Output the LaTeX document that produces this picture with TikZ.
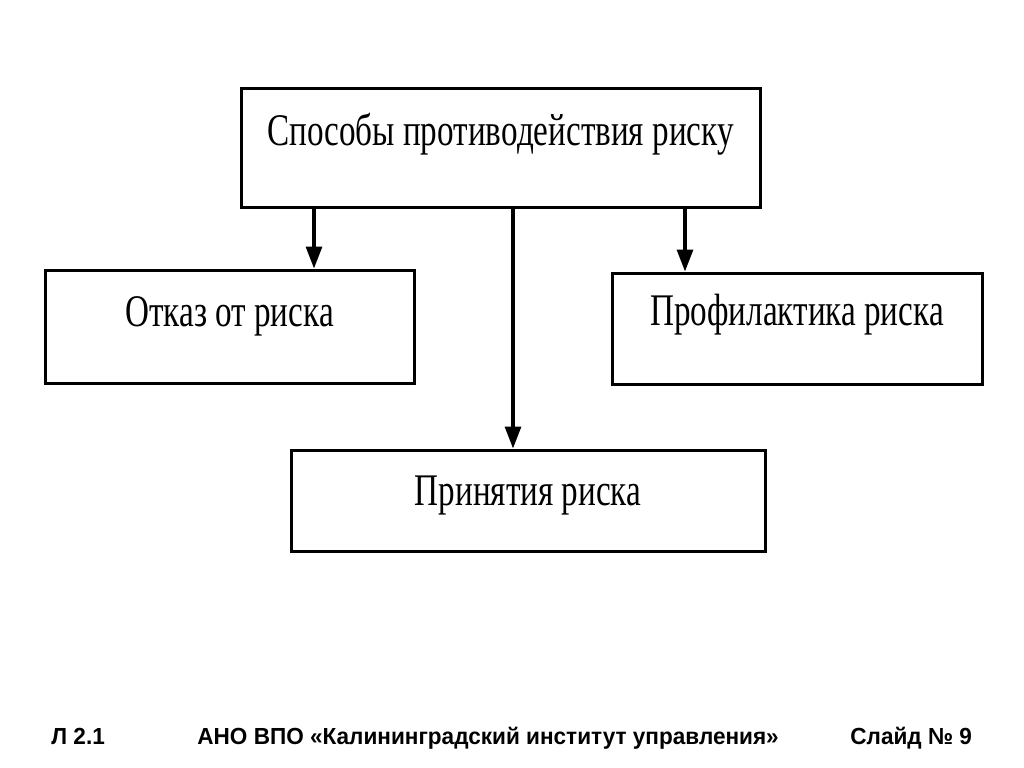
\documentclass[tikz,border=0pt]{standalone}
\usepackage{fontspec}
\setmainfont{Liberation Serif}
\newfontfamily\footfont{Liberation Sans}
\usetikzlibrary{arrows.meta,positioning}
\newcommand{\boxtext}[1]{\scalebox{0.975}[1.33]{#1}}
\newcommand{\foottext}[1]{\scalebox{0.94}[0.97]{#1}}

\begin{document}
\begin{tikzpicture}[x=0.5pt,y=-0.5pt,
    box/.style={draw,line width=1.5pt,inner sep=0pt,font=\fontsize{17}{20}\selectfont},
    arr/.style={line width=1.6pt,-{Triangle[length=11pt,width=8pt]}},
    foot/.style={font=\footfont\bfseries\fontsize{12}{14}\selectfont,anchor=base west,inner sep=0pt}]
  \useasboundingbox[fill=white] (0,0) rectangle (1024,767);
  % boxes
  \node[box,minimum width=259.5pt,minimum height=59.5pt,text height=12pt,text depth=14.5pt] (top) at (500.5,147.5) {\boxtext{Способы противодействия риску}};
  \node[box,minimum width=184.5pt,minimum height=56.5pt,text height=12pt,text depth=12pt] (lft) at (229.5,326.5) {\boxtext{Отказ от риска}};
  \node[box,minimum width=185pt,minimum height=55.5pt,text height=12pt,text depth=15.5pt] (rgt) at (797,328.5) {\boxtext{Профилактика риска}};
  \node[box,minimum width=237pt,minimum height=50.5pt,text height=14.5pt,text depth=10pt] (bot) at (528,500.5) {\boxtext{Принятия риска}\hspace{14.5pt}};
  % arrows
  \coordinate (la) at ([xshift=42.25pt]lft.north);
  \coordinate (ba) at ([xshift=-7.5pt]bot.north);
  \coordinate (ra) at ([xshift=-56pt]rgt.north);
  \draw[arr] (top.south -| la) -- (la);
  \draw[arr] (top.south -| ba) -- (ba);
  \draw[arr] (top.south -| ra) -- (ra);
  % footer
  \node[foot] (f1) at (51,744) {\foottext{Л 2.1}};
  \node[foot] (f2) at (197,744) {\foottext{АНО ВПО «Калининградский институт управления»}};
  \node[foot] (f3) at (850,744) {\foottext{Слайд № 9}};
\end{tikzpicture}
\end{document}
